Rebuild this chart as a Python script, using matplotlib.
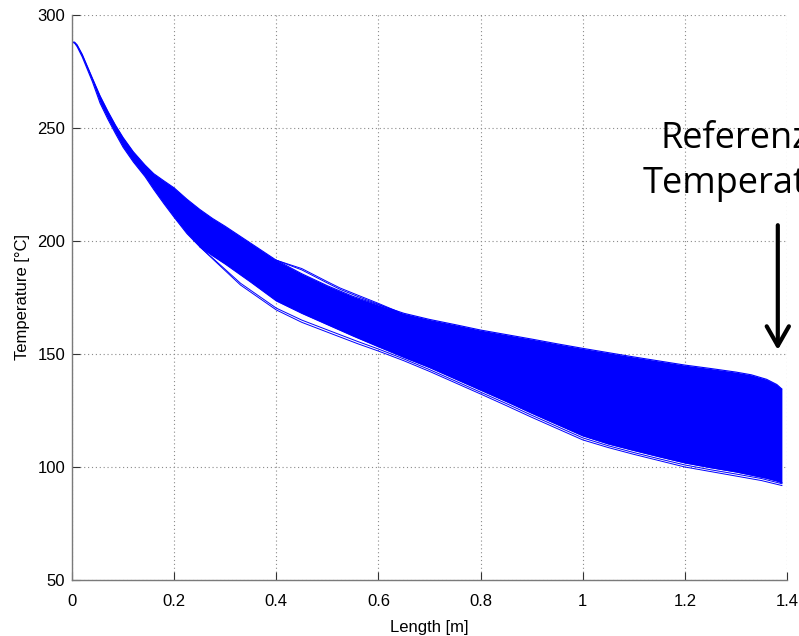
import matplotlib
matplotlib.use("Agg")
import matplotlib.pyplot as plt

# Envelope of the simulated temperature profiles along the pipe length
length_m = [0.0, 0.005, 0.01, 0.02, 0.03, 0.04, 0.055, 0.07, 0.085, 0.10, 0.12,
            0.143, 0.16, 0.18, 0.20, 0.225, 0.25, 0.275, 0.30, 0.35, 0.40, 0.45,
            0.50, 0.55, 0.60, 0.65, 0.70, 0.75, 0.80, 0.85, 0.90, 0.95, 1.00,
            1.05, 1.10, 1.15, 1.20, 1.25, 1.30, 1.33, 1.36, 1.38, 1.39]
temp_upper = [288.0, 288.0, 286.8, 282.6, 277.3, 272.0, 264.2, 257.5, 251.3,
              245.8, 239.5, 233.6, 229.8, 226.6, 223.5, 218.5, 214.0, 210.0,
              206.5, 199.0, 191.5, 185.5, 180.2, 175.5, 171.7, 168.0, 165.3,
              163.0, 160.6, 158.6, 156.6, 154.5, 152.5, 150.6, 148.7, 146.9,
              145.1, 143.6, 142.0, 140.8, 138.8, 136.5, 134.5]
temp_lower = [288.0, 287.6, 286.0, 281.5, 276.0, 270.5, 261.0, 254.0, 247.6,
              241.5, 235.0, 228.5, 222.8, 216.5, 210.5, 203.3, 197.5, 193.5,
              189.8, 181.8, 173.5, 168.0, 163.0, 158.0, 153.2, 148.5, 144.0,
              139.0, 134.0, 129.0, 123.8, 118.8, 113.8, 110.2, 107.3, 104.5,
              101.8, 99.7, 97.8, 96.4, 95.0, 93.8, 93.0]

# Profiles that run below the main bundle
low_len = [0.25, 0.28, 0.33, 0.40, 0.45, 0.51, 0.56, 0.60, 0.65, 0.70, 0.75,
           0.80, 0.85, 0.90, 0.95, 1.00, 1.05, 1.10, 1.15, 1.20, 1.25, 1.30,
           1.35, 1.39]
low_a = [197.5, 191.1, 180.5, 169.5, 164.0, 158.8, 154.5, 151.3, 147.0, 142.3,
         137.3, 132.3, 127.2, 122.0, 117.0, 112.0, 108.6, 105.6, 102.8, 100.0,
         98.0, 96.0, 94.0, 91.8]
low_b = [197.5, 191.5, 181.3, 170.3, 165.0, 159.8, 155.5, 152.2, 147.8, 143.1,
         138.1, 133.1, 128.1, 122.9, 117.9, 112.9, 109.4, 106.4, 103.6, 100.9,
         98.8, 96.9, 94.9, 92.6]

# Profiles that stay just above the main bundle
high_len = [0.40, 0.45, 0.50, 0.525, 0.56, 0.60, 0.64]
high_a = [191.5, 187.8, 182.0, 179.2, 176.0, 172.4, 168.6]
high_b = [191.5, 187.2, 181.4, 178.6, 175.4, 172.0, 168.3]

x_ticks = [0, 0.2, 0.4, 0.6, 0.8, 1.0, 1.2, 1.4]
x_tick_labels = ["0", "0.2", "0.4", "0.6", "0.8", "1", "1.2", "1.4"]
y_ticks = [50, 100, 150, 200, 250, 300]

ref_length = 1.382
ref_arrow_top = 207
ref_arrow_tip = 151.8

plt.rcParams["font.family"] = ["Liberation Sans", "DejaVu Sans"]

fig = plt.figure(figsize=(7.99, 6.36), dpi=100)
ax = fig.add_axes([72 / 799, 56 / 636, (787 - 72) / 799, (580 - 15) / 636])

blue = "#0000ff"
ax.fill_between(length_m, temp_lower, temp_upper, color=blue, lw=0)
ax.plot(length_m, temp_upper, color=blue, lw=0.8)
ax.plot(length_m, temp_lower, color=blue, lw=0.8)
for xs, ys in [(low_len, low_a), (low_len, low_b),
               (high_len, high_a), (high_len, high_b)]:
    ax.plot(xs, ys, color=blue, lw=0.7)

ax.set_xlim(0, 1.4)
ax.set_ylim(50, 300)
ax.set_xticks(x_ticks)
ax.set_xticklabels(x_tick_labels)
ax.set_yticks(y_ticks)

ax.grid(True, linestyle=(0, (1, 2.5)), color="#8a8a8a", lw=0.8)
ax.set_axisbelow(True)
for side in ("top", "right"):
    ax.spines[side].set_visible(False)
for side in ("left", "bottom"):
    ax.spines[side].set_color("#7a7a7a")
    ax.spines[side].set_linewidth(1.0)
ax.tick_params(direction="in", length=6, width=0.8, color="#333333",
               labelsize=12)
ax.tick_params(axis="x", pad=10)
ax.tick_params(axis="y", pad=5)

ax.set_xlabel("Length [m]", fontsize=12, labelpad=8)
ax.set_ylabel("Temperature [°C]", fontsize=12, labelpad=5)

ax.text(1.1514, 241.2, "Referenz", fontsize=26, family="Open Sans",
        ha="left", va="baseline", color="black", clip_on=False)
ax.text(1.1181, 221.2, "Temperatur", fontsize=26, family="Open Sans",
        ha="left", va="baseline", color="black", clip_on=False)
ax.annotate("", xy=(ref_length, ref_arrow_tip), xytext=(ref_length, ref_arrow_top),
            arrowprops=dict(arrowstyle="->,head_length=1.4,head_width=0.8",
                            lw=3, color="black", shrinkA=0, shrinkB=0))

fig.savefig("out.png", dpi=100)
